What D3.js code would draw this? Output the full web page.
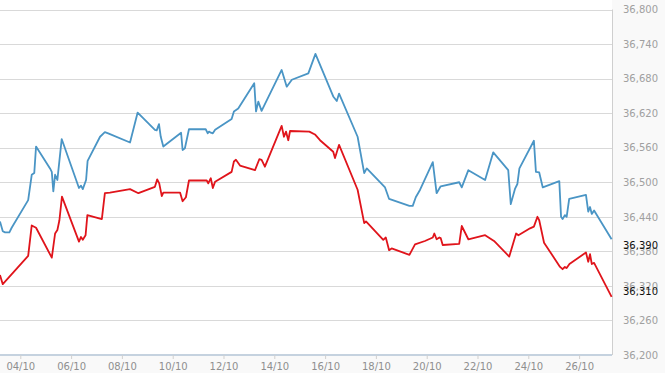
<!DOCTYPE html>
<html><head><meta charset="utf-8">
<script src="https://cdn.jsdelivr.net/npm/d3@7"></script>
<style>html,body{margin:0;padding:0;background:#fff;}svg{display:block;}</style>
</head><body>
<svg id="chart" width="665" height="373"></svg>
<script>
// x as day of October (fractional), y as price
const blueDays = [3.20,3.31,3.40,3.57,3.66,4.31,4.45,4.55,4.62,5.17,5.24,5.30,5.37,5.46,5.63,6.31,6.39,6.46,6.59,6.65,7.14,7.33,7.46,8.32,8.62,9.30,9.37,9.46,9.53,9.63,10.33,10.39,10.48,10.64,11.30,11.38,11.43,11.50,11.58,11.67,12.32,12.41,12.58,13.21,13.28,13.37,13.50,14.29,14.49,14.69,15.34,15.62,16.32,16.46,16.55,17.28,17.54,17.64,18.36,18.52,19.32,19.45,19.57,19.74,20.24,20.39,20.55,21.28,21.38,21.64,22.30,22.62,23.21,23.31,23.48,23.57,23.65,24.22,24.30,24.43,24.57,25.22,25.29,25.35,25.44,25.51,25.61,26.27,26.36,26.43,26.50,26.59,27.28];
const blueValues = [36432,36415,36413,36413,36421,36469,36513,36516,36562,36524,36518,36484,36513,36504,36575,36490,36494,36488,36504,36537,36579,36587,36585,36569,36621,36591,36590,36601,36579,36562,36586,36556,36559,36592,36592,36585,36588,36586,36585,36591,36610,36623,36628,36672,36623,36640,36624,36695,36666,36678,36689,36723,36649,36641,36654,36579,36516,36524,36491,36471,36459,36459,36474,36487,36535,36481,36493,36500,36491,36521,36504,36552,36521,36462,36489,36497,36524,36572,36518,36517,36491,36502,36440,36436,36443,36440,36471,36478,36449,36457,36445,36451,36401];
const redDays = [3.20,3.31,4.31,4.45,4.62,5.24,5.37,5.46,5.54,5.64,6.31,6.39,6.46,6.57,6.64,7.21,7.33,7.53,8.32,8.65,9.30,9.39,9.47,9.57,9.63,10.29,10.39,10.52,10.64,11.34,11.40,11.50,11.58,11.67,12.32,12.41,12.49,12.65,13.24,13.41,13.50,13.63,14.29,14.38,14.46,14.55,14.62,15.38,15.60,15.80,16.32,16.39,16.55,17.28,17.54,17.61,18.29,18.39,18.52,18.62,19.32,19.54,19.93,20.24,20.30,20.39,20.50,20.55,20.63,21.28,21.38,21.64,22.30,22.65,23.25,23.52,23.61,24.07,24.22,24.36,24.43,24.62,25.25,25.35,25.44,25.51,25.62,26.27,26.36,26.43,26.50,26.59,27.28];
const redValues = [36339,36323,36372,36425,36421,36369,36411,36417,36434,36475,36397,36405,36400,36408,36443,36436,36481,36482,36488,36481,36492,36505,36498,36476,36482,36482,36467,36474,36503,36503,36498,36507,36490,36501,36518,36536,36539,36529,36521,36540,36539,36527,36598,36579,36588,36573,36589,36588,36583,36573,36553,36542,36565,36487,36429,36432,36400,36404,36382,36385,36374,36392,36398,36404,36411,36401,36404,36403,36391,36393,36424,36401,36408,36398,36371,36411,36408,36420,36423,36440,36434,36395,36353,36349,36353,36351,36358,36378,36362,36375,36358,36360,36301];
const xTickDays = [4,6,8,10,12,14,16,18,20,22,24,26];
const xTickLabels = ["04/10","06/10","08/10","10/10","12/10","14/10","16/10","18/10","20/10","22/10","24/10","26/10"];
const yTicks = [36200,36260,36320,36380,36440,36500,36560,36620,36680,36740,36800];
const lastValues = [36390, 36310];

const svg = d3.select("#chart");
const W = 665, H = 373;
const plotRight = 612, plotTop = 9.5, plotBottom = 355;

const x = d3.scaleLinear().domain([3.2008, 3.2008 + 612/25.4]).range([0, plotRight]);
const y = d3.scaleLinear().domain([36200, 36800]).range([plotBottom, plotTop]);

svg.append("rect").attr("width", W).attr("height", H).attr("fill", "#f9f9f9");
svg.append("rect").attr("x", 0).attr("y", 0).attr("width", plotRight).attr("height", plotBottom).attr("fill", "#fff");

// gridlines
svg.append("g").selectAll("line").data(yTicks).join("line")
  .attr("x1", 0).attr("x2", plotRight)
  .attr("y1", d => Math.round(y(d)) + 0.5).attr("y2", d => Math.round(y(d)) + 0.5)
  .attr("stroke", "#d9d9d9").attr("stroke-width", 1);

// right border
svg.append("line").attr("x1", plotRight + 0.5).attr("x2", plotRight + 0.5)
  .attr("y1", plotTop).attr("y2", plotBottom).attr("stroke", "#cfcfcf");

// bottom axis
const xAxis = d3.axisBottom(x).tickValues(xTickDays)
  .tickFormat((d, i) => xTickLabels[i]).tickSize(4).tickPadding(4);
const gx = svg.append("g").attr("transform", `translate(0,${plotBottom})`).call(xAxis);
gx.select(".domain").attr("stroke", "#c5d2df").attr("stroke-width", 2).attr("d", `M0,0H${plotRight}`);
gx.selectAll(".tick line").attr("stroke", "#d0d0d0");
gx.selectAll(".tick text").attr("fill", "#8f8f8f")
  .style("font-family", "DejaVu Sans, Verdana, sans-serif").style("font-size", "10px");

// right y labels
const yAxis = d3.axisRight(y).tickValues(yTicks).tickFormat(d3.format(",")).tickSize(0).tickPadding(10);
const gy = svg.append("g").attr("transform", `translate(${plotRight + 1},0)`).call(yAxis);
gy.select(".domain").remove();
gy.selectAll(".tick text").attr("fill", "#a0a0a0")
  .style("font-family", "DejaVu Sans, Verdana, sans-serif").style("font-size", "10px");

// lines
const blue = blueDays.map((d, i) => [d, blueValues[i]]);
const red = redDays.map((d, i) => [d, redValues[i]]);
const line = d3.line().x(d => x(d[0])).y(d => y(d[1]));
svg.append("path").datum(blue).attr("d", line).attr("fill", "none")
  .attr("stroke", "#4a95c5").attr("stroke-width", 1.8).attr("stroke-linejoin", "round");
svg.append("path").datum(red).attr("d", line).attr("fill", "none")
  .attr("stroke", "#e0141b").attr("stroke-width", 1.8).attr("stroke-linejoin", "round");

// last value labels
svg.append("g").selectAll("text").data(lastValues).join("text")
  .attr("x", plotRight + 11).attr("y", d => y(d)).attr("dy", "0.35em")
  .attr("fill", "#111")
  .style("font-family", "DejaVu Sans, Verdana, sans-serif").style("font-size", "10px")
  .text(d => d3.format(",")(d));
</script>
</body></html>
